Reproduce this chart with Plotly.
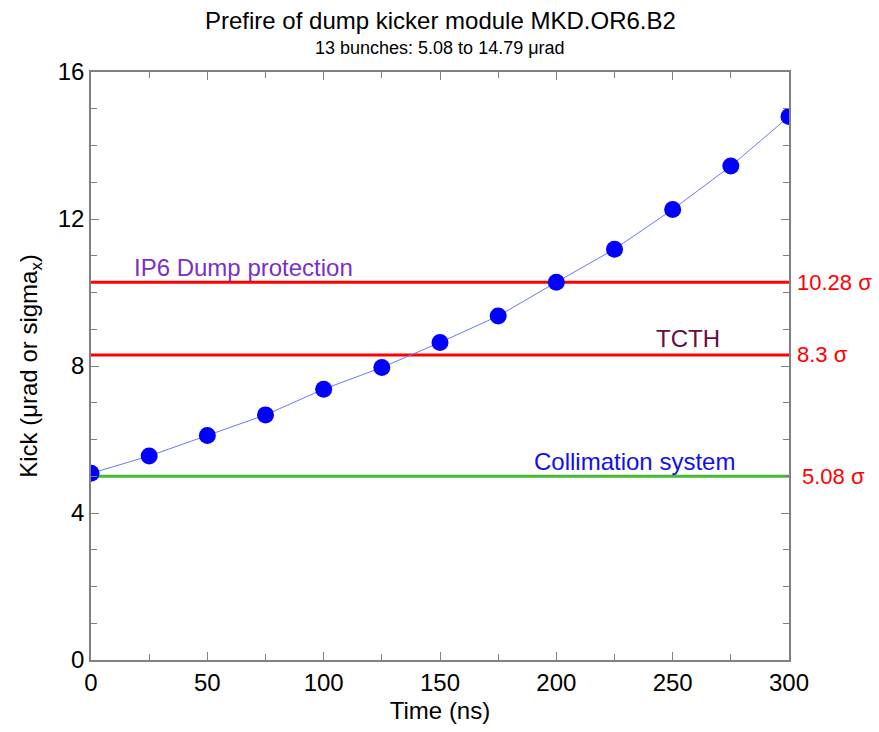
import plotly.graph_objects as go

time_ns = [0, 25, 50, 75, 100, 125, 150, 175, 200, 225, 250, 275, 300]
kick = [5.08, 5.55, 6.11, 6.67, 7.37, 7.96, 8.64, 9.36, 10.28, 11.18, 12.26, 13.44, 14.79]

dump_level = 10.28
tcth_level = 8.3
coll_level = 5.0
level_labels = ["10.28 σ", "8.3 σ", "5.08 σ"]

FONT = "Liberation Sans, Arial, sans-serif"

fig = go.Figure()

fig.add_trace(go.Scatter(x=[0, 300], y=[dump_level, dump_level], mode="lines",
                         line=dict(color="#ff0000", width=3), showlegend=False, hoverinfo="skip"))
fig.add_trace(go.Scatter(x=[0, 300], y=[tcth_level, tcth_level], mode="lines",
                         line=dict(color="#ff0000", width=3), showlegend=False, hoverinfo="skip"))
fig.add_trace(go.Scatter(x=[0, 300], y=[coll_level, coll_level], mode="lines",
                         line=dict(color="#44bb33", width=3), showlegend=False, hoverinfo="skip"))

fig.add_trace(go.Scatter(x=time_ns, y=kick, mode="lines",
                         line=dict(color="#6878ff", width=1),
                         showlegend=False))
fig.add_trace(go.Scatter(x=time_ns, y=kick, mode="markers",
                         marker=dict(color="#0000ff", size=17),
                         showlegend=False))

# level labels on the right
for lvl, txt, dx in zip([dump_level, tcth_level, coll_level], level_labels, [6, 6, 11]):
    fig.add_annotation(x=300, y=lvl, xref="x", yref="y", text=txt, showarrow=False,
                       xanchor="left", yanchor="middle", xshift=dx,
                       font=dict(family=FONT, size=22, color="#ff0000"))

fig.add_annotation(x=17.6, y=dump_level, xref="x", yref="y", text="IP6 Dump protection",
                   showarrow=False, xanchor="left", yanchor="middle", yshift=15,
                   font=dict(family=FONT, size=24, color="#7a30c8"))
fig.add_annotation(x=271.2, y=tcth_level, xref="x", yref="y", text="TCTH",
                   showarrow=False, xanchor="right", yanchor="middle", yshift=16,
                   font=dict(family=FONT, size=24, color="#6a0a40"))
fig.add_annotation(x=277.6, y=coll_level, xref="x", yref="y", text="Collimation system",
                   showarrow=False, xanchor="right", yanchor="middle", yshift=15,
                   font=dict(family=FONT, size=24, color="#1010ee"))

# title and subtitle
fig.add_annotation(x=0.5, y=1 + (72 - 20) / 590, xref="paper", yref="paper",
                   text="Prefire of dump kicker module MKD.OR6.B2", showarrow=False,
                   xanchor="center", yanchor="middle",
                   font=dict(family=FONT, size=24, color="black"))
fig.add_annotation(x=0.5, y=1 + (72 - 48) / 590, xref="paper", yref="paper",
                   text="13 bunches: 5.08 to 14.79 μrad", showarrow=False,
                   xanchor="center", yanchor="middle",
                   font=dict(family=FONT, size=18, color="black"))

fig.update_layout(
    width=879, height=732,
    margin=dict(l=91, r=90, t=72, b=70),
    paper_bgcolor="white", plot_bgcolor="white",
    font=dict(family=FONT, color="black"),
    xaxis=dict(range=[0, 300], tickvals=[0, 50, 100, 150, 200, 250, 300],
               ticks="inside", ticklen=8, tickcolor="#808080",
               minor=dict(dtick=25, ticks="inside", ticklen=6, tickcolor="#808080"),
               showline=True, linecolor="#808080", linewidth=1.5, mirror="ticks",
               showgrid=False, zeroline=False,
               tickfont=dict(family=FONT, size=24),
               title=dict(text="Time (ns)", font=dict(family=FONT, size=24), standoff=8)),
    yaxis=dict(range=[0, 16], tickvals=[0, 4, 8, 12, 16],
               ticks="inside", ticklen=8, tickcolor="#808080",
               minor=dict(dtick=1, ticks="inside", ticklen=6, tickcolor="#808080"),
               showline=True, linecolor="#808080", linewidth=1.5, mirror="ticks",
               showgrid=False, zeroline=False,
               tickfont=dict(family=FONT, size=24),
               title=dict(text="Kick (μrad or sigma<sub>x</sub>)", font=dict(family=FONT, size=24), standoff=13)),
)

fig.write_html("out.html")
